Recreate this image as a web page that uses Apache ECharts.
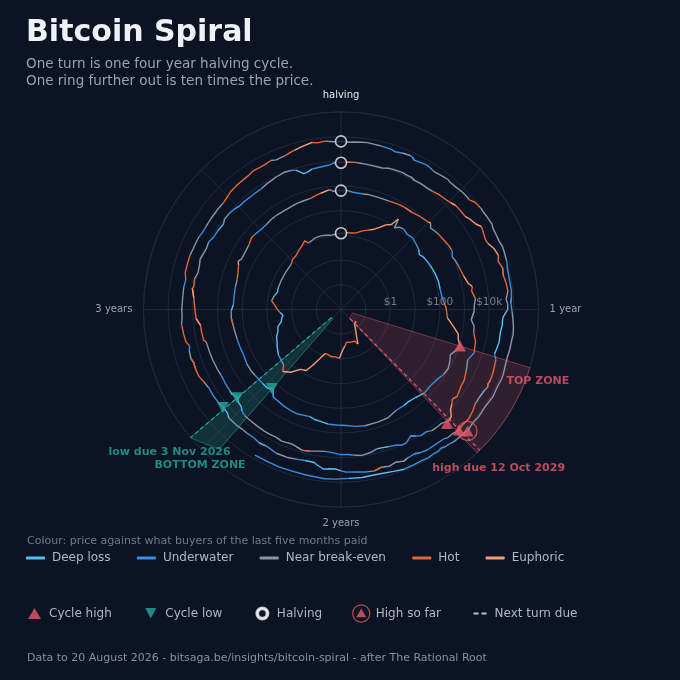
<!DOCTYPE html>
<html><head><meta charset="utf-8">
<script src="https://cdn.jsdelivr.net/npm/echarts@6/dist/echarts.min.js"></script>
<style>html,body{margin:0;padding:0;background:#0c1423;}#chart{width:680px;height:680px;}</style>
</head><body><div id="chart"></div>
<script>
// ---------- data ----------
const zoneNames = ['Deep loss', 'Underwater', 'Near break-even', 'Hot', 'Euphoric'];
const angleLabels = ['halving', '1 year', '2 years', '3 years'];
const ringValues = [1, 100, 10000];
const ringLabels = ['$1', '$100', '$10k'];

// years into halving cycle (dial position), price in USD, colour zone (index into zoneNames)
const cycle0Years = [1.42,1.47,1.52,1.56,1.60,1.64,1.67,1.71,1.74,1.78,1.83,1.89,1.93,1.97,2.02,2.07,2.13,2.18,2.22,2.26,2.30,2.33,2.38,2.43,2.48,2.51,2.55,2.60,2.66,2.70,2.74,2.79,2.83,2.87,2.91,2.94,2.97,3.01,3.05,3.08,3.13,3.17,3.21,3.30,3.38,3.47,3.51,3.55,3.60,3.64,3.69,3.71,3.73,3.78,3.83,3.87,3.91,3.96,4.00];
const cycle0Price = [0.06,0.065,0.062,0.065,0.10,0.14,0.19,0.36,0.25,0.28,0.24,0.22,0.30,0.42,0.95,0.85,0.88,0.80,0.78,1.5,3.5,7.0,8.5,18,28,17,15,13.5,10,8,7,5,4.5,3.0,2.6,2.3,3.0,4.0,5.2,6.8,5.7,4.6,4.9,4.9,5.0,5.3,6.5,6.8,8.5,10,14,10,10.5,12,12.3,11.8,10.8,11.5,12.3];
const cycle0Zone = [4,4,4,4,4,4,4,4,3,3,3,3,3,4,4,3,3,3,3,4,4,4,4,4,4,3,2,1,0,0,0,0,0,0,0,0,0,3,3,3,2,0,0,2,2,2,3,3,3,3,3,3,2,2,2,2,2,2,2];

const cycle1Years = [0,0.03,0.06,0.09,0.13,0.17,0.21,0.25,0.28,0.31,0.34,0.36,0.37,0.39,0.42,0.46,0.50,0.54,0.58,0.61,0.64,0.68,0.72,0.77,0.82,0.87,0.91,0.95,0.99,1.05,1.10,1.13,1.16,1.19,1.22,1.25,1.28,1.32,1.36,1.40,1.45,1.50,1.55,1.60,1.63,1.68,1.74,1.80,1.87,1.92,1.97,2.02,2.07,2.12,2.15,2.18,2.22,2.25,2.30,2.34,2.38,2.42,2.45,2.48,2.52,2.58,2.62,2.67,2.72,2.77,2.82,2.87,2.91,2.95,2.99,3.03,3.08,3.13,3.18,3.22,3.26,3.28,3.30,3.34,3.39,3.43,3.45,3.50,3.54,3.58,3.62,3.66,3.71,3.75,3.79,3.83,3.86,3.89,3.94,3.96,3.98,4.00];
const cycle1Price = [12.3,12.5,13.3,13.5,15,20,25,33,47,75,100,215,90,120,135,115,125,110,95,75,90,100,110,120,128,125,130,145,180,210,430,700,800,1100,850,620,750,900,820,650,570,600,470,420,440,450,600,620,640,590,500,480,470,400,380,330,350,380,370,350,320,300,175,230,230,240,255,250,225,230,235,245,260,285,280,230,230,235,240,270,330,400,330,330,360,440,430,380,380,410,420,410,420,450,450,460,530,600,750,620,670,650];
const cycle1Zone = [2,2,2,3,3,3,3,4,4,4,4,4,2,2,2,1,1,1,1,0,0,0,1,0,0,0,1,1,3,3,4,4,4,4,2,1,2,2,2,1,1,1,0,0,0,1,2,2,2,1,1,1,1,0,0,0,1,1,1,1,1,1,0,0,0,1,2,2,1,1,1,2,2,3,2,0,1,1,2,3,3,4,2,2,2,3,3,1,1,2,2,2,2,2,2,2,3,3,4,2,2,2];

const cycle2Years = [0,0.03,0.06,0.08,0.12,0.15,0.19,0.23,0.27,0.32,0.36,0.40,0.45,0.50,0.51,0.53,0.56,0.58,0.62,0.66,0.69,0.72,0.74,0.78,0.83,0.87,0.89,0.91,0.92,0.95,0.98,1.01,1.05,1.08,1.11,1.15,1.18,1.20,1.24,1.27,1.29,1.33,1.37,1.38,1.41,1.43,1.45,1.47,1.49,1.51,1.54,1.56,1.59,1.61,1.64,1.66,1.68,1.71,1.73,1.76,1.79,1.82,1.84,1.87,1.91,1.94,1.97,2.00,2.04,2.07,2.10,2.14,2.17,2.18,2.22,2.25,2.27,2.30,2.33,2.36,2.40,2.45,2.47,2.49,2.51,2.53,2.56,2.58,2.60,2.64,2.68,2.71,2.76,2.80,2.85,2.86,2.90,2.93,2.96,2.99,3.02,3.05,3.09,3.10,3.13,3.16,3.19,3.22,3.25,3.27,3.30,3.33,3.36,3.40,3.42,3.45,3.48,3.51,3.53,3.57,3.60,3.63,3.66,3.69,3.71,3.75,3.78,3.80,3.83,3.85,3.87,3.90,3.93,3.95,3.97,3.99,4.00];
const cycle2Price = [650,670,600,580,575,610,605,615,640,720,740,750,870,1000,1120,800,900,970,1050,1200,1230,960,1080,1200,1400,1800,2500,2200,2400,2900,2500,2450,1950,2700,2850,4000,4300,4700,3300,3900,4400,5600,6000,6400,7400,6100,8000,10000,16500,19000,14000,14000,13500,11000,11200,9000,7000,10300,10500,8200,7500,6800,6700,8200,9200,8400,7500,7500,6400,6000,6400,7400,8200,7700,6300,6700,7000,6300,6600,6600,6500,6400,6300,5600,4300,4000,3250,3900,3750,3600,3450,3600,3800,3900,4100,5000,5200,5300,7500,8000,8600,9500,12000,10800,11500,9500,10000,11500,10200,9600,10300,8400,8300,7600,9300,9200,8500,7300,7500,7100,7200,7200,8100,8700,9400,10300,9600,8600,5000,5400,6400,6600,7000,7500,8800,9500,8700];
const cycle2Zone = [2,2,1,1,1,2,2,2,2,3,3,2,3,3,4,2,2,2,3,3,3,1,2,2,3,4,4,3,3,3,2,2,1,2,2,3,3,3,1,2,2,3,3,3,3,2,3,4,4,4,2,2,2,1,1,1,0,1,1,1,1,0,0,2,2,2,1,1,1,1,2,2,3,2,1,2,2,2,2,2,2,2,2,1,0,0,0,0,0,1,1,2,2,2,2,3,3,3,4,3,3,3,4,3,3,2,2,2,2,2,2,1,1,0,2,2,1,0,1,1,1,1,2,2,2,2,2,1,0,0,0,1,1,1,1,2,2];

const cycle3Years = [0,0.03,0.06,0.09,0.12,0.14,0.18,0.21,0.23,0.27,0.29,0.31,0.33,0.36,0.39,0.42,0.45,0.48,0.51,0.53,0.56,0.59,0.61,0.64,0.66,0.69,0.71,0.73,0.76,0.79,0.81,0.84,0.87,0.90,0.93,0.96,0.98,1.00,1.03,1.05,1.06,1.09,1.13,1.18,1.20,1.21,1.25,1.28,1.30,1.31,1.33,1.36,1.39,1.42,1.45,1.48,1.51,1.53,1.56,1.57,1.60,1.65,1.68,1.70,1.73,1.75,1.78,1.81,1.84,1.87,1.90,1.94,1.98,2.00,2.02,2.05,2.07,2.10,2.11,2.15,2.18,2.22,2.24,2.27,2.30,2.32,2.35,2.38,2.41,2.44,2.47,2.50,2.51,2.53,2.56,2.58,2.62,2.66,2.69,2.72,2.75,2.78,2.80,2.83,2.85,2.87,2.90,2.91,2.94,2.97,3.00,3.04,3.09,3.12,3.15,3.18,3.22,3.25,3.27,3.30,3.32,3.35,3.39,3.44,3.47,3.50,3.52,3.53,3.56,3.59,3.61,3.64,3.67,3.69,3.72,3.74,3.78,3.80,3.82,3.85,3.89,3.91,3.94,3.97,4.00];
const cycle3Price = [8700,9500,9600,9400,9100,9100,9200,11000,11400,12000,11500,11700,10300,10800,10800,11400,13000,13800,15700,18500,19000,19200,23500,28900,40000,35000,31500,33000,47000,55000,45000,57000,52000,59000,63000,50000,57000,56000,37000,35500,36500,33000,34500,29800,39500,40000,46000,49000,47000,52000,46000,43000,44000,55000,64000,61000,67500,58000,57000,49000,47000,47000,42000,36000,38500,44000,37000,43500,39000,47000,45500,40000,38500,34000,29000,29500,31500,22500,19500,19300,20800,23500,23300,24300,21000,20000,21800,19000,19400,19200,20500,20500,20900,16500,15800,17000,17300,16600,19000,22800,23100,22000,24500,23400,20200,26000,28000,28400,30400,27500,28000,26800,27000,25000,30500,30500,31400,29500,29300,29000,26100,25900,26600,27000,27000,30500,34500,34600,37000,37500,38600,44000,42000,42300,46500,40000,42500,48000,52000,61000,73000,65000,70000,63000,64000];
const cycle3Zone = [2,3,3,2,2,2,2,2,2,2,2,2,1,2,2,2,3,3,3,4,3,3,4,4,4,3,3,3,4,4,3,3,2,3,3,2,2,2,0,0,0,0,0,0,1,2,3,3,2,3,2,1,2,3,3,3,3,2,2,1,1,1,1,0,1,2,1,2,2,3,2,1,1,1,0,0,1,0,0,0,1,2,2,2,1,1,2,1,1,2,2,2,2,0,0,1,1,1,2,3,3,2,3,2,1,3,3,3,3,2,2,2,2,1,3,3,3,2,2,2,1,1,2,2,2,3,3,3,3,3,3,3,3,3,3,2,2,3,3,4,4,3,3,2,2];

const cycle4Years = [0,0.03,0.05,0.08,0.10,0.115,0.15,0.17,0.195,0.21,0.24,0.27,0.28,0.29,0.32,0.34,0.365,0.38,0.41,0.44,0.45,0.48,0.51,0.535,0.55,0.57,0.60,0.62,0.64,0.67,0.69,0.71,0.74,0.765,0.795,0.82,0.85,0.87,0.89,0.93,0.955,0.975,1.01,1.04,1.06,1.09,1.125,1.15,1.18,1.21,1.24,1.26,1.295,1.33,1.36,1.38,1.42,1.45,1.465,1.485,1.50,1.53,1.55,1.56,1.59,1.60,1.62,1.635,1.66,1.69,1.72,1.76,1.80,1.84,1.88,1.92,1.97,2.02,2.06,2.10,2.14,2.19,2.24,2.29,2.34];
const cycle4Price = [64000,60000,63000,67000,69000,67500,66000,64000,62500,56500,64000,68000,64500,54000,60000,64000,58000,54000,60000,65500,61000,62500,68500,70000,68000,88000,98000,96000,101000,106000,94000,93500,94000,105000,100000,97000,86000,85000,84000,87000,82500,76500,85000,95000,103000,111000,104500,106000,101000,107000,118000,122000,115500,123500,113000,109000,116000,109500,114000,125000,113000,111000,110000,101000,92000,84000,91000,87000,92000,86000,88000,90000,78000,70000,68000,72000,70000,74000,76000,72000,70000,68000,71000,69000,71000];
const cycle4Zone = [2,2,2,2,2,2,2,1,1,1,1,2,1,0,1,1,1,1,2,2,2,2,2,2,2,3,3,2,2,2,2,2,2,2,2,2,1,1,1,1,1,0,1,2,2,2,2,2,2,2,2,2,2,2,2,2,2,2,2,2,2,2,2,1,1,0,1,1,1,1,1,1,0,0,0,0,0,1,1,1,1,1,1,1,1];

const halvingPrice = [12.3, 650, 8700, 64000];
const cycleHighYears = [1.19, 1.523, 1.507];
const cycleHighPrice = [1100, 19800, 67500];
const highSoFarYears = [1.487];
const highSoFarPrice = [126000];
const cycleLowYears = [2.458, 2.552, 2.559];
const cycleLowPrice = [180, 3300, 16500];

// zone wedges: [top zone, bottom zone]
const zoneFromYears = [1.19, 2.456];
const zoneToYears = [1.516, 2.551];
const zoneInnerPrice = 0.03;
const zoneOuterPriceFrom = [1000000, 300000];
const zoneOuterPriceTo = [1000000, 1000000];
const dueYears = [1.505, 2.551];
const dueInnerPrice = 0.033;
const dueOuterPrice = 1600000;
const labelAnchorPrice = 1000000;
const dueLabels = ['high due 12 Oct 2029', 'low due 3 Nov 2026'];
const zoneLabels = ['TOP ZONE', 'BOTTOM ZONE'];

// ---------- styling ----------
const BG = '#0c1423';
const GRID = '#1e2a3d';
const FONT = 'DejaVu Sans';
const RED = '#e5596a';
const TEAL = '#27a69b';
const zoneColors = ['#55bff0', '#3a8ddb', '#8a94a3', '#e2653b', '#f59b7a'];

const cycles = [
  [cycle0Years, cycle0Price, cycle0Zone],
  [cycle1Years, cycle1Price, cycle1Zone],
  [cycle2Years, cycle2Price, cycle2Zone],
  [cycle3Years, cycle3Price, cycle3Zone],
  [cycle4Years, cycle4Price, cycle4Zone]
];
const pts = [];
cycles.forEach(function (c) {
  c[0].forEach(function (y, i) { pts.push([c[1][i], y, c[2][i]]); });
});

const zoneSeries = zoneNames.map(function (name, z) {
  return {
    name: name, type: 'line', coordinateSystem: 'polar', symbol: 'none', smooth: false,
    connectNulls: false, silent: true, z: 3, color: zoneColors[z],
    lineStyle: { color: zoneColors[z], width: 1.4, join: 'round' },
    data: pts.map(function (p, i) {
      const next = pts[i + 1];
      return (p[2] === z || (next && next[2] === z)) ? [p[0], p[1]] : ['-', '-'];
    })
  };
});

const wedgeSeries = {
  type: 'custom', coordinateSystem: 'polar', silent: true, z: 1,
  data: zoneFromYears.map(function (a0, k) {
    return [zoneInnerPrice, a0, zoneOuterPriceFrom[k], zoneToYears[k], k, zoneOuterPriceTo[k]];
  }),
  renderItem: function (params, api) {
    const rIn = api.value(0), a0 = api.value(1), rOut0 = api.value(2), a1 = api.value(3), k = api.value(4), rOut1 = api.value(5);
    const N = 40, points = [];
    const l0 = Math.log10(rOut0), l1 = Math.log10(rOut1);
    for (let i = 0; i <= N; i++) {
      const t = i / N;
      points.push(api.coord([Math.pow(10, l0 + (l1 - l0) * t), a0 + (a1 - a0) * t]));
    }
    for (let i = N; i >= 0; i--) points.push(api.coord([rIn, a0 + (a1 - a0) * i / N]));
    const fill = k === 0 ? 'rgba(229,89,106,0.17)' : 'rgba(39,166,155,0.20)';
    const stroke = k === 0 ? 'rgba(229,89,106,0.45)' : 'rgba(39,166,155,0.55)';
    return { type: 'polygon', shape: { points: points }, style: { fill: fill, stroke: stroke, lineWidth: 1 } };
  }
};

const dueSeries = dueYears.map(function (a, i) {
  return {
    name: 'Next turn due', type: 'line', coordinateSystem: 'polar', symbol: 'none', silent: true, z: 4,
    clip: false, color: i === 0 ? RED : TEAL,
    lineStyle: { color: i === 0 ? RED : TEAL, width: 1.2, type: [4, 3] },
    data: [[dueInnerPrice, a], [dueOuterPrice, a]]
  };
});

const labelBase = { show: true, fontFamily: FONT, fontWeight: 'bold', fontSize: 11, position: 'inside' };
const annotSeries = {
  type: 'scatter', coordinateSystem: 'polar', silent: true, z: 8, symbolSize: 1,
  itemStyle: { color: 'rgba(0,0,0,0)' },
  data: [
    { value: [zoneOuterPriceFrom[0], zoneFromYears[0]], label: Object.assign({}, labelBase, { formatter: zoneLabels[0], color: RED, offset: [8, 14] }) },
    { value: [labelAnchorPrice, dueYears[0]], label: Object.assign({}, labelBase, { formatter: dueLabels[0], color: RED, offset: [19, 17.5] }) },
    { value: [labelAnchorPrice, dueYears[1]], label: Object.assign({}, labelBase, { formatter: dueLabels[1], color: TEAL, offset: [-21, 15] }) },
    { value: [labelAnchorPrice, dueYears[1]], label: Object.assign({}, labelBase, { formatter: zoneLabels[1], color: TEAL, offset: [9.5, 27.5] }) }
  ]
};

const ringLabelSeries = {
  type: 'scatter', coordinateSystem: 'polar', silent: true, z: 2, symbolSize: 1,
  itemStyle: { color: 'rgba(0,0,0,0)' },
  data: ringValues.map(function (v, i) {
    return { value: [v, 1], label: { show: true, formatter: ringLabels[i], position: 'top', distance: 1, color: '#8f99a7', fontSize: 10.5, fontFamily: FONT } };
  })
};

const ringPath = 'path://M0,0M19,19M0.3,9.5A9.2,9.2 0 1,0 18.7,9.5A9.2,9.2 0 1,0 0.3,9.5ZM1.5,9.5A8,8 0 1,1 17.5,9.5A8,8 0 1,1 1.5,9.5ZM9.5,4.5L14.5,13.3L4.5,13.3Z';
const upTri = 'path://M0,0M19,19M9.5,4L16,15L3,15Z';
const downTri = 'path://M0,0M19,19M4,4L15,4L9.5,14.5Z';
const halvingIcon = 'path://M0,0M19,19M3.5,9.5A6,6 0 1,0 15.5,9.5A6,6 0 1,0 3.5,9.5ZM5.3,9.5A4.2,4.2 0 1,1 13.7,9.5A4.2,4.2 0 1,1 5.3,9.5Z';
const dashIcon = 'path://M0,0M19,19M3,8.5h5v2h-5zM11,8.5h5v2h-5z';

const option = {
  backgroundColor: BG,
  animation: false,
  title: [
    { text: 'Bitcoin Spiral', left: 26, top: 18.5, padding: 0, itemGap: 7.5,
      textStyle: { color: '#eef2f7', fontSize: 30, fontWeight: 'bold', fontFamily: FONT },
      subtext: 'One turn is one four year halving cycle.\nOne ring further out is ten times the price.',
      subtextStyle: { color: '#97a3b3', fontSize: 13.5, lineHeight: 17, fontFamily: FONT } },
    { text: 'Colour: price against what buyers of the last five months paid', left: 27, top: 536, padding: 0,
      textStyle: { color: '#6f7b8b', fontSize: 11, fontWeight: 'normal', fontFamily: FONT } },
    { text: 'Data to 20 August 2026 - bitsaga.be/insights/bitcoin-spiral - after The Rational Root', left: 27, top: 653, padding: 0,
      textStyle: { color: '#8590a0', fontSize: 11, fontWeight: 'normal', fontFamily: FONT } }
  ],
  legend: [
    { data: zoneNames, left: 26, top: 552, padding: 0, itemWidth: 19, itemHeight: 3, itemGap: 26.3, icon: 'roundRect',
      selectedMode: false, textStyle: { color: '#aeb8c5', fontSize: 12, fontFamily: FONT, padding: [0, 0, 0, 2] } },
    { data: [
        { name: 'Cycle high', icon: upTri, itemStyle: { color: RED } },
        { name: 'Cycle low', icon: downTri, itemStyle: { color: TEAL } },
        { name: 'Halving', icon: halvingIcon, itemStyle: { color: '#eef2f6' } },
        { name: 'High so far', icon: ringPath, itemStyle: { color: RED } },
        { name: 'Next turn due', icon: dashIcon, itemStyle: { color: '#b9c2cd' } }
      ],
      left: 25, top: 603, padding: 0, itemWidth: 19, itemHeight: 19, itemGap: 29.5,
      selectedMode: false, textStyle: { color: '#aeb8c5', fontSize: 12, fontFamily: FONT } }
  ],
  polar: { center: [341, 309.5], radius: 197.6 },
  angleAxis: {
    type: 'value', min: 0, max: 4, interval: 0.5, startAngle: 90, clockwise: true,
    axisLine: { show: true, lineStyle: { color: GRID, width: 1 } },
    axisTick: { show: false },
    axisLabel: {
      show: true, margin: 11, fontSize: 10, fontFamily: FONT, color: '#98a2b0',
      formatter: function (v) {
        const n = Number(v);
        if (!Number.isInteger(n) || n >= 4) return '';
        return n === 0 ? '{h|' + angleLabels[0] + '}' : angleLabels[n];
      },
      rich: { h: { color: '#e3e8ee', fontSize: 10, fontFamily: FONT } }
    },
    splitLine: { show: true, lineStyle: { color: GRID, width: 1 } }
  },
  radiusAxis: {
    type: 'log', logBase: 10, min: 0.01, max: 1000000, splitNumber: 8,
    axisLine: { show: false }, axisTick: { show: false }, axisLabel: { show: false },
    splitLine: { show: true, lineStyle: { color: GRID, width: 1 } }
  },
  series: [wedgeSeries, ringLabelSeries].concat(zoneSeries, dueSeries, [
    { name: 'Cycle high', type: 'scatter', coordinateSystem: 'polar', silent: true, z: 6,
      symbol: 'triangle', symbolSize: [12, 11], itemStyle: { color: RED },
      data: cycleHighYears.map(function (a, i) { return [cycleHighPrice[i], a]; }) },
    { name: 'Cycle low', type: 'scatter', coordinateSystem: 'polar', silent: true, z: 6,
      symbol: 'triangle', symbolRotate: 180, symbolSize: [12, 11], itemStyle: { color: TEAL },
      data: cycleLowYears.map(function (a, i) { return [cycleLowPrice[i], a]; }) },
    { name: 'Halving', type: 'scatter', coordinateSystem: 'polar', silent: true, z: 6,
      symbol: 'circle', symbolSize: 11, itemStyle: { color: BG, borderColor: '#eef2f6', borderWidth: 1.6 },
      data: halvingPrice.map(function (p) { return [p, 0]; }) },
    { name: 'High so far', type: 'scatter', coordinateSystem: 'polar', silent: true, z: 6,
      symbol: 'triangle', symbolSize: [12, 11], itemStyle: { color: RED },
      data: highSoFarYears.map(function (a, i) { return [highSoFarPrice[i], a]; }) },
    { name: 'High so far', type: 'scatter', coordinateSystem: 'polar', silent: true, z: 6,
      symbol: 'circle', symbolSize: 19, itemStyle: { color: 'rgba(0,0,0,0)', borderColor: RED, borderWidth: 1.3 },
      data: highSoFarYears.map(function (a, i) { return [highSoFarPrice[i], a]; }) },
    annotSeries
  ])
};

const chart = echarts.init(document.getElementById('chart'), null, { renderer: 'canvas', width: 680, height: 680 });
chart.setOption(option);
</script>
</body></html>
